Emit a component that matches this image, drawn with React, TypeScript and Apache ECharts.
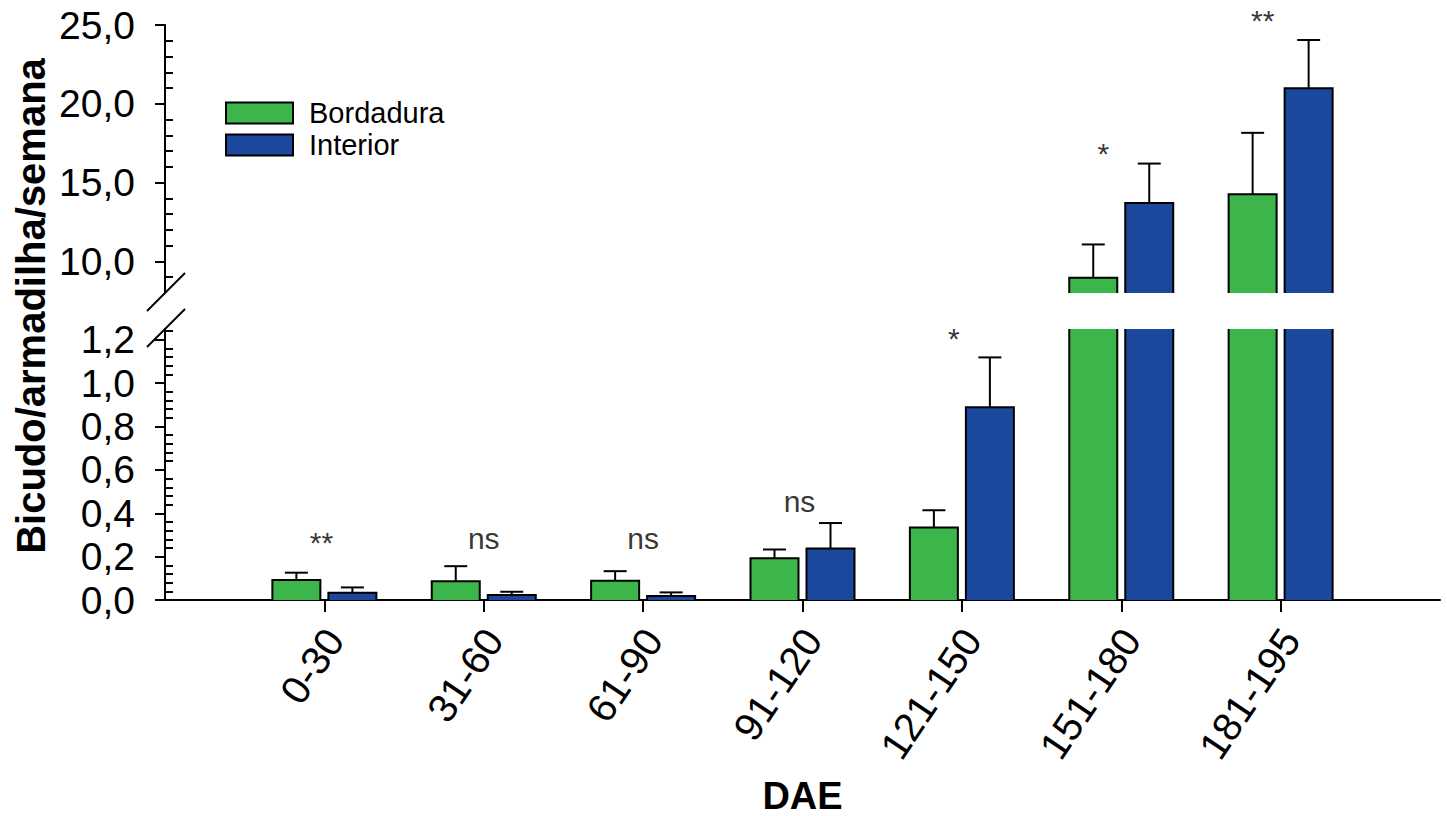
import React, { useEffect, useRef } from 'react';
import * as echarts from 'echarts';

// ---------------- data ----------------
const categories = ['0-30', '31-60', '61-90', '91-120', '121-150', '151-180', '181-195'];
const bordaduraMean = [0.092, 0.087, 0.089, 0.192, 0.334, 8.96, 14.26];
const bordaduraSE = [0.034, 0.069, 0.044, 0.041, 0.08, 2.12, 3.9];
const interiorMean = [0.034, 0.023, 0.018, 0.238, 0.889, 13.71, 20.98];
const interiorSE = [0.024, 0.015, 0.017, 0.117, 0.23, 2.5, 3.07];
const sigLabels = ['**', 'ns', 'ns', 'ns', '*', '*', '**'];
const sigHeights = [0.263, 0.285, 0.285, 0.455, 1.208, 16.86, 25.3];

// axis scales (broken axis)
const lowerMin = 0;
const lowerMax = 1.25;
const upperMin = 8;
const upperMax = 25;
const lowerTicks = [0, 0.2, 0.4, 0.6, 0.8, 1.0, 1.2];
const lowerMinorTicks = [
  0.04, 0.08, 0.12, 0.16, 0.24, 0.28, 0.32, 0.36, 0.44, 0.48, 0.52, 0.56, 0.64, 0.68, 0.72, 0.76,
  0.84, 0.88, 0.92, 0.96, 1.04, 1.08, 1.12, 1.16, 1.24,
];
const upperTicks = [10, 15, 20, 25];
const upperMinorTicks = [9, 11, 12, 13, 14, 16, 17, 18, 19, 21, 22, 23, 24];

// ---------------- style ----------------
const GREEN = '#3cb54a';
const BLUE = '#1b479c';
const FONT = 'Liberation Sans, Arial, sans-serif';
const AXIS_X = 165;
const AXIS_RIGHT = 1440;
const UPPER_TOP = 25;
const UPPER_BOTTOM = 293;
const LOWER_TOP = 329;
const LOWER_BOTTOM = 600;
const BAR_W = 48;
const BAR_GAP_PX = 8;
const OFFSET = (BAR_W + BAR_GAP_PX) / 2;
const CAP = 11.5;
const LINE = { stroke: '#000', lineWidth: 2 };
const SIG_DX = [-3, 0, 0, -3, -8, -18, -18]; // horizontal nudge of the significance marks (px)

const padded = ['', ...categories, ''];
const fmt = (v: number) => v.toFixed(1).replace('.', ',');

function errorSeries(
  means: number[],
  ses: number[],
  sign: number,
  xi: number,
  yi: number,
  keep: (m: number, t: number) => boolean
) {
  const data: any[] = [];
  means.forEach((m, i) => {
    const t = m + ses[i];
    if (keep(m, t)) data.push([categories[i], m, t]);
  });
  return {
    type: 'custom',
    xAxisIndex: xi,
    yAxisIndex: yi,
    clip: true,
    z: 4,
    encode: { x: 0, y: [1, 2] },
    data,
    renderItem: (params: any, api: any) => {
      const p0 = api.coord([api.value(0), api.value(1)]);
      const p1 = api.coord([api.value(0), api.value(2)]);
      const x = p0[0] + sign * OFFSET;
      return {
        type: 'group',
        children: [
          { type: 'line', shape: { x1: x, y1: p0[1], x2: x, y2: p1[1] }, style: LINE },
          { type: 'line', shape: { x1: x - CAP, y1: p1[1], x2: x + CAP, y2: p1[1] }, style: LINE },
        ],
      };
    },
  };
}

// black outline of the bars, leaving the edges cut by the axis break open
function outlineSeries(values: number[], sign: number, xi: number, yi: number) {
  return {
    type: 'custom',
    xAxisIndex: xi,
    yAxisIndex: yi,
    clip: false,
    z: 3,
    encode: { x: 0, y: 1 },
    data: values.map((v, i) => [categories[i], v]),
    renderItem: (params: any, api: any) => {
      const cs = params.coordSys;
      const gTop = cs.y;
      const gBottom = cs.y + cs.height;
      const pTop = api.coord([api.value(0), api.value(1)]);
      const pBase = api.coord([api.value(0), 0]);
      const yTop = pTop[1];
      if (yTop >= gBottom) return null;
      const yB = Math.min(pBase[1], gBottom);
      const xc = pTop[0] + sign * OFFSET;
      const x0 = xc - BAR_W / 2;
      const x1 = xc + BAR_W / 2;
      if (yTop >= gTop) {
        return {
          type: 'polyline',
          shape: { points: [[x0, yB], [x0, yTop], [x1, yTop], [x1, yB]] },
          style: { ...LINE, fill: null, lineJoin: 'miter' },
        };
      }
      return {
        type: 'group',
        children: [
          { type: 'line', shape: { x1: x0, y1: yB, x2: x0, y2: gTop }, style: LINE },
          { type: 'line', shape: { x1: x1, y1: yB, x2: x1, y2: gTop }, style: LINE },
        ],
      };
    },
  };
}

function barSeries(name: string, values: number[], color: string, xi: number, yi: number) {
  return {
    type: 'bar',
    name,
    xAxisIndex: xi,
    yAxisIndex: yi,
    barWidth: BAR_W,
    barGap: `${(BAR_GAP_PX / BAR_W) * 100}%`,
    clip: true,
    data: [null, ...values, null],
    itemStyle: { color, borderWidth: 0 },
  };
}

function sigSeries(xi: number, yi: number, keepUpper: boolean) {
  const data: any[] = [];
  sigLabels.forEach((s, i) => {
    const h = sigHeights[i];
    if ((h > lowerMax) === keepUpper)
      data.push({ value: [categories[i], h], label: { formatter: s, offset: [SIG_DX[i], 0] } });
  });
  return {
    type: 'scatter',
    xAxisIndex: xi,
    yAxisIndex: yi,
    clip: false,
    symbol: 'circle',
    symbolSize: 1,
    itemStyle: { color: 'rgba(0,0,0,0)' },
    label: {
      show: true,
      position: 'inside',
      color: '#000',
      fontSize: 30,
      fontFamily: FONT,
    },
    data,
    z: 5,
  };
}

function majorY(grid: number, min: number, max: number, ticks: number[]) {
  return {
    type: 'value',
    gridIndex: grid,
    position: 'left',
    min,
    max,
    axisLine: { show: true, lineStyle: { color: '#000', width: 2 } },
    axisTick: { show: true, inside: false, length: 10, customValues: ticks, lineStyle: { color: '#000', width: 2 } },
    axisLabel: {
      show: true,
      customValues: ticks,
      formatter: (v: number) => fmt(v),
      fontSize: 39,
      fontFamily: FONT,
      color: '#000',
      margin: 30,
    },
    splitLine: { show: false },
  };
}

function minorY(grid: number, min: number, max: number, ticks: number[]) {
  return {
    type: 'value',
    gridIndex: grid,
    position: 'left',
    min,
    max,
    axisLine: { show: false },
    axisTick: { show: true, inside: true, length: 8, customValues: ticks, lineStyle: { color: '#000', width: 2 } },
    axisLabel: { show: false },
    splitLine: { show: false },
  };
}

function breakLine(y: number) {
  return {
    type: 'line',
    shape: { x1: AXIS_X - 18, y1: y + 18, x2: AXIS_X + 20, y2: y - 20 },
    style: { stroke: '#000', lineWidth: 2 },
    z: 10,
  };
}

export default function App() {
  const ref = useRef<HTMLDivElement>(null);
  useEffect(() => {
    if (!ref.current) return;
    const chart = echarts.init(ref.current, null, { renderer: 'svg' });
    const width = AXIS_RIGHT - AXIS_X;
    const option: any = {
      animation: false,
      backgroundColor: '#fff',
      grid: [
        {
          left: AXIS_X,
          top: UPPER_TOP,
          width,
          height: UPPER_BOTTOM - UPPER_TOP,
          containLabel: false,
          outerBoundsMode: 'none',
        },
        {
          left: AXIS_X,
          top: LOWER_TOP,
          width,
          height: LOWER_BOTTOM - LOWER_TOP,
          containLabel: false,
          outerBoundsMode: 'none',
        },
      ],
      legend: {
        data: ['Bordadura', 'Interior'],
        orient: 'vertical',
        left: 225,
        top: 97,
        padding: 0,
        itemWidth: 67,
        itemHeight: 21,
        itemGap: 0,
        icon: 'rect',
        itemStyle: { borderColor: '#000', borderWidth: 2 },
        textStyle: { fontSize: 29, fontFamily: FONT, color: '#000', lineHeight: 32, padding: [0, 0, 0, 11] },
      },
      xAxis: [
        { type: 'category', gridIndex: 0, data: padded, boundaryGap: false, show: false },
        {
          type: 'category',
          gridIndex: 1,
          data: padded,
          boundaryGap: false,
          axisLine: { show: true, lineStyle: { color: '#000', width: 2 } },
          axisTick: {
            show: true,
            length: 12,
            interval: (i: number) => i > 0 && i < padded.length - 1,
            lineStyle: { color: '#000', width: 2 },
          },
          axisLabel: {
            interval: 0,
            rotate: 56,
            fontSize: 40,
            fontFamily: FONT,
            color: '#000',
            margin: 26,
            verticalAlign: 'top',
            lineHeight: 24,
          },
          name: 'DAE',
          nameLocation: 'middle',
          nameGap: 177,
          nameTextStyle: { fontSize: 38, fontWeight: 'bold', fontFamily: FONT, color: '#000' },
          splitLine: { show: false },
        },
      ],
      yAxis: [
        majorY(0, upperMin, upperMax, upperTicks),
        minorY(0, upperMin, upperMax, upperMinorTicks),
        majorY(1, lowerMin, lowerMax, lowerTicks),
        minorY(1, lowerMin, lowerMax, lowerMinorTicks),
      ],
      series: [
        barSeries('Bordadura', bordaduraMean, GREEN, 1, 2),
        barSeries('Interior', interiorMean, BLUE, 1, 2),
        barSeries('Bordadura', bordaduraMean, GREEN, 0, 0),
        barSeries('Interior', interiorMean, BLUE, 0, 0),
        outlineSeries(bordaduraMean, -1, 1, 2),
        outlineSeries(interiorMean, 1, 1, 2),
        outlineSeries(bordaduraMean, -1, 0, 0),
        outlineSeries(interiorMean, 1, 0, 0),
        errorSeries(bordaduraMean, bordaduraSE, -1, 1, 2, (m, t) => t <= lowerMax),
        errorSeries(interiorMean, interiorSE, 1, 1, 2, (m, t) => t <= lowerMax),
        errorSeries(bordaduraMean, bordaduraSE, -1, 0, 0, (m) => m >= upperMin),
        errorSeries(interiorMean, interiorSE, 1, 0, 0, (m) => m >= upperMin),
        sigSeries(1, 2, false),
        sigSeries(0, 0, true),
      ],
      graphic: [
        breakLine(UPPER_BOTTOM),
        breakLine(LOWER_TOP),
        {
          type: 'text',
          x: 31,
          y: 306,
          rotation: Math.PI / 2,
          style: {
            text: 'Bicudo/armadilha/semana',
            fontSize: 40,
            fontWeight: 'bold',
            fontFamily: FONT,
            fill: '#000',
            align: 'center',
            verticalAlign: 'middle',
          },
        },
      ],
    };
    chart.setOption(option);
    return () => chart.dispose();
  }, []);
  return (
    <div
      ref={ref}
      style={{ position: 'absolute', left: 0, top: 0, width: 1447, height: 816, background: '#fff' }}
    />
  );
}
